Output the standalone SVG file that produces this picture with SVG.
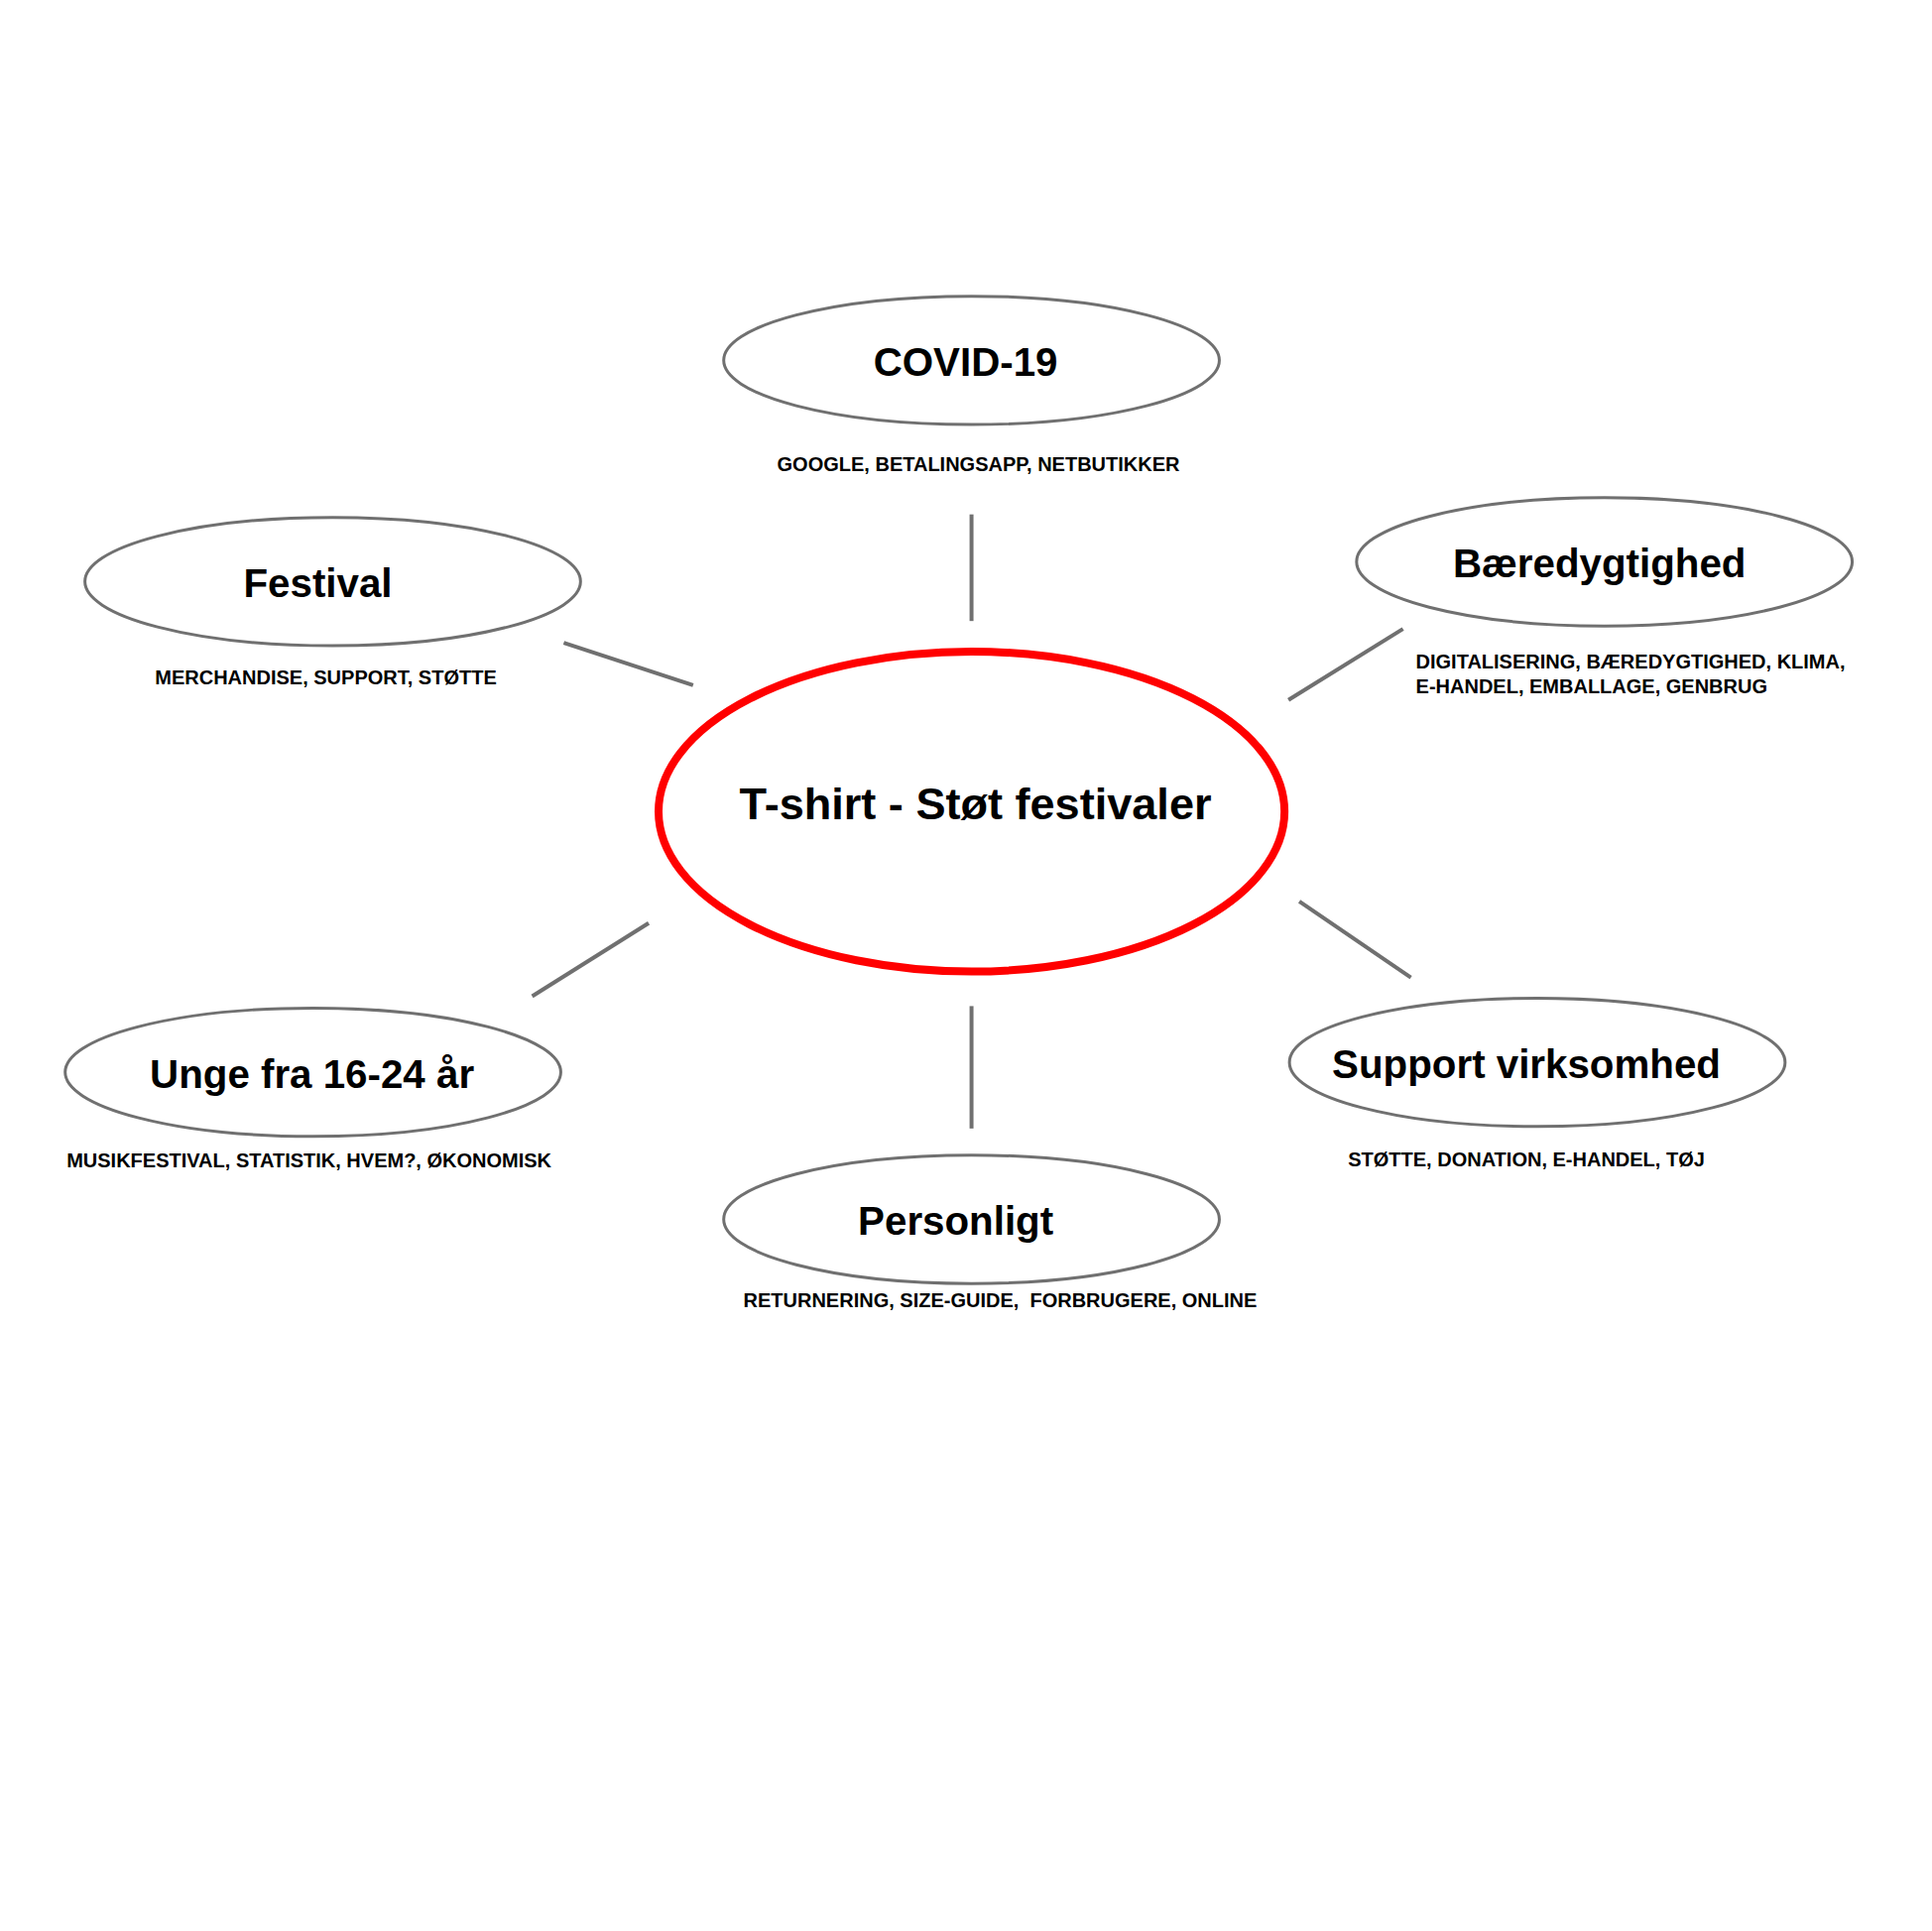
<svg xmlns="http://www.w3.org/2000/svg" width="1948" height="1947" viewBox="0 0 1948 1947">
<style>
.node{fill:#ffffff;stroke:#707070;stroke-width:3}
.center{fill:#ffffff;stroke:#ff0000;stroke-width:8}
.title{font-family:"Liberation Sans",Arial,Helvetica,sans-serif;font-weight:bold;font-size:40.5px;fill:#000;text-anchor:middle}
.ctitle{font-family:"Liberation Sans",Arial,Helvetica,sans-serif;font-weight:bold;font-size:45.3px;fill:#000;text-anchor:middle}
.sub{font-family:"Liberation Sans",Arial,Helvetica,sans-serif;font-weight:bold;font-size:20.1px;fill:#000;text-anchor:middle}
.subl{font-family:"Liberation Sans",Arial,Helvetica,sans-serif;font-weight:bold;font-size:20.1px;fill:#000;text-anchor:start}
.conn{stroke:#707070;stroke-width:4;fill:none}
</style>
<rect width="1948" height="1947" fill="#ffffff"/>
<g transform="scale(0.9955)">
<g id="connectors">
<line class="conn" x1="984" y1="521" x2="984" y2="629"/>
<line class="conn" x1="571" y1="651" x2="702" y2="694"/>
<line class="conn" x1="1421" y1="637" x2="1305" y2="709"/>
<line class="conn" x1="657" y1="935" x2="539" y2="1009"/>
<line class="conn" x1="984" y1="1019" x2="984" y2="1143"/>
<line class="conn" x1="1316" y1="913" x2="1429" y2="990"/>
</g>
<g id="center">
<ellipse class="center" cx="984" cy="822" rx="317" ry="162"/>
<text class="ctitle" x="988" y="830">T-shirt - Støt festivaler</text>
</g>
<g id="covid">
<ellipse class="node" cx="984" cy="365" rx="251" ry="65"/>
<text class="title" x="978" y="381">COVID-19</text>
<text class="sub" x="991" y="477">GOOGLE, BETALINGSAPP, NETBUTIKKER</text>
</g>
<g id="festival">
<ellipse class="node" cx="337" cy="589" rx="251" ry="65"/>
<text class="title" x="322" y="605">Festival</text>
<text class="sub" x="330" y="693">MERCHANDISE, SUPPORT, STØTTE</text>
</g>
<g id="baeredygtighed">
<ellipse class="node" cx="1625" cy="569" rx="251" ry="65"/>
<text class="title" x="1620" y="585">Bæredygtighed</text>
<text class="subl" x="1434" y="677">DIGITALISERING, BÆREDYGTIGHED, KLIMA,</text>
<text class="subl" x="1434" y="702">E-HANDEL, EMBALLAGE, GENBRUG</text>
</g>
<g id="unge">
<ellipse class="node" cx="317" cy="1086" rx="251" ry="65"/>
<text class="title" x="316" y="1102">Unge fra 16-24 år</text>
<text class="sub" x="313" y="1182">MUSIKFESTIVAL, STATISTIK, HVEM?, ØKONOMISK</text>
</g>
<g id="personligt">
<ellipse class="node" cx="984" cy="1235" rx="251" ry="65"/>
<text class="title" x="968" y="1251">Personligt</text>
<text class="sub" x="1013" y="1324" xml:space="preserve">RETURNERING, SIZE-GUIDE,  FORBRUGERE, ONLINE</text>
</g>
<g id="support">
<ellipse class="node" cx="1557" cy="1076" rx="251" ry="65"/>
<text class="title" x="1546" y="1092">Support virksomhed</text>
<text class="sub" x="1546" y="1181">STØTTE, DONATION, E-HANDEL, TØJ</text>
</g>
</g>
</svg>
